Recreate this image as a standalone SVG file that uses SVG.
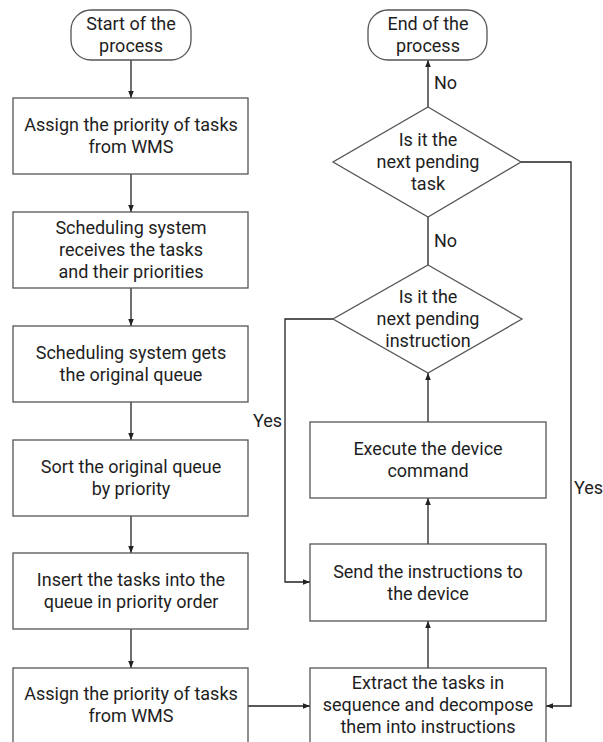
<svg xmlns="http://www.w3.org/2000/svg" width="603" height="742" viewBox="0 0 603 742">
  <style>
    .box { fill: #ffffff; stroke: #555555; stroke-width: 1.3; }
    .line { fill: none; stroke: #222222; stroke-width: 1.3; }
    text { font-family: Roboto, "Liberation Sans", sans-serif; font-size: 18px; fill: #1e1e1e; text-anchor: middle; }
    .lbl { text-anchor: start; }
  </style>
  <defs>
    <marker id="arrow" viewBox="0 0 10 10" refX="10" refY="5" markerWidth="7" markerHeight="7" markerUnits="userSpaceOnUse" orient="auto">
      <path d="M0,1 L10,5 L0,9 z" fill="#222222"/>
    </marker>
  </defs>
  <rect width="603" height="742" fill="#ffffff"/>

  <!-- connectors -->
  <g id="connectors">
    <line class="line" x1="131" y1="60" x2="131" y2="98" marker-end="url(#arrow)"/>
    <line class="line" x1="131" y1="174" x2="131" y2="212" marker-end="url(#arrow)"/>
    <line class="line" x1="131" y1="288" x2="131" y2="326" marker-end="url(#arrow)"/>
    <line class="line" x1="131" y1="402" x2="131" y2="440" marker-end="url(#arrow)"/>
    <line class="line" x1="131" y1="516" x2="131" y2="553" marker-end="url(#arrow)"/>
    <line class="line" x1="131" y1="629" x2="131" y2="668" marker-end="url(#arrow)"/>
    <line class="line" x1="248" y1="706" x2="310" y2="706" marker-end="url(#arrow)"/>
    <line class="line" x1="428" y1="668" x2="428" y2="621" marker-end="url(#arrow)"/>
    <line class="line" x1="428" y1="544" x2="428" y2="498" marker-end="url(#arrow)"/>
    <line class="line" x1="428" y1="422" x2="428" y2="373" marker-end="url(#arrow)"/>
    <line class="line" x1="428" y1="265" x2="428" y2="217"/>
    <line class="line" x1="428" y1="107" x2="428" y2="60" marker-end="url(#arrow)"/>
    <polyline class="line" points="333,319 285,319 285,582 310,582" marker-end="url(#arrow)"/>
    <polyline class="line" points="521,162 571,162 571,706 546,706" marker-end="url(#arrow)"/>
    <text class="lbl" x="434" y="89">No</text>
    <text class="lbl" x="434" y="247">No</text>
    <text class="lbl" x="253" y="427">Yes</text>
    <text class="lbl" x="574" y="494" font-size="17">Yes</text>
  </g>

  <!-- left column -->
  <g id="start">
    <rect class="box" x="71" y="10" width="120" height="50" rx="20" ry="20"/>
    <text x="131" y="30">Start of the</text>
    <text x="131" y="52">process</text>
  </g>
  <g id="assign-priority">
    <rect class="box" x="13" y="98" width="235" height="76"/>
    <text x="131" y="131">Assign the priority of tasks</text>
    <text x="131" y="153">from WMS</text>
  </g>
  <g id="receive-tasks">
    <rect class="box" x="13" y="212" width="235" height="76"/>
    <text x="131" y="234">Scheduling system</text>
    <text x="131" y="256">receives the tasks</text>
    <text x="131" y="278">and their priorities</text>
  </g>
  <g id="original-queue">
    <rect class="box" x="13" y="326" width="235" height="76"/>
    <text x="131" y="359">Scheduling system gets</text>
    <text x="131" y="381">the original queue</text>
  </g>
  <g id="sort-queue">
    <rect class="box" x="13" y="440" width="235" height="76"/>
    <text x="131" y="473">Sort the original queue</text>
    <text x="131" y="495">by priority</text>
  </g>
  <g id="insert-tasks">
    <rect class="box" x="13" y="553" width="235" height="76"/>
    <text x="131" y="586">Insert the tasks into the</text>
    <text x="131" y="608">queue in priority order</text>
  </g>
  <g id="assign-priority-2">
    <rect class="box" x="13" y="668" width="235" height="80"/>
    <text x="131" y="700">Assign the priority of tasks</text>
    <text x="131" y="722">from WMS</text>
  </g>

  <!-- right column -->
  <g id="end">
    <rect class="box" x="368" y="10" width="119" height="50" rx="20" ry="20"/>
    <text x="428" y="30">End of the</text>
    <text x="428" y="52">process</text>
  </g>
  <g id="next-task">
    <polygon class="box" points="428,107 521,162 428,217 333,162"/>
    <text x="428" y="146">Is it the</text>
    <text x="428" y="168">next pending</text>
    <text x="428" y="190">task</text>
  </g>
  <g id="next-instruction">
    <polygon class="box" points="428,265 522,319 428,373 333,319"/>
    <text x="428" y="303">Is it the</text>
    <text x="428" y="325">next pending</text>
    <text x="428" y="347">instruction</text>
  </g>
  <g id="execute-command">
    <rect class="box" x="310" y="422" width="236" height="76"/>
    <text x="428" y="455">Execute the device</text>
    <text x="428" y="477">command</text>
  </g>
  <g id="send-instructions">
    <rect class="box" x="310" y="544" width="236" height="77"/>
    <text x="428" y="578">Send the instructions to</text>
    <text x="428" y="600">the device</text>
  </g>
  <g id="extract-tasks">
    <rect class="box" x="310" y="668" width="236" height="80"/>
    <text x="428" y="689">Extract the tasks in</text>
    <text x="428" y="711">sequence and decompose</text>
    <text x="428" y="733">them into instructions</text>
  </g>
</svg>
